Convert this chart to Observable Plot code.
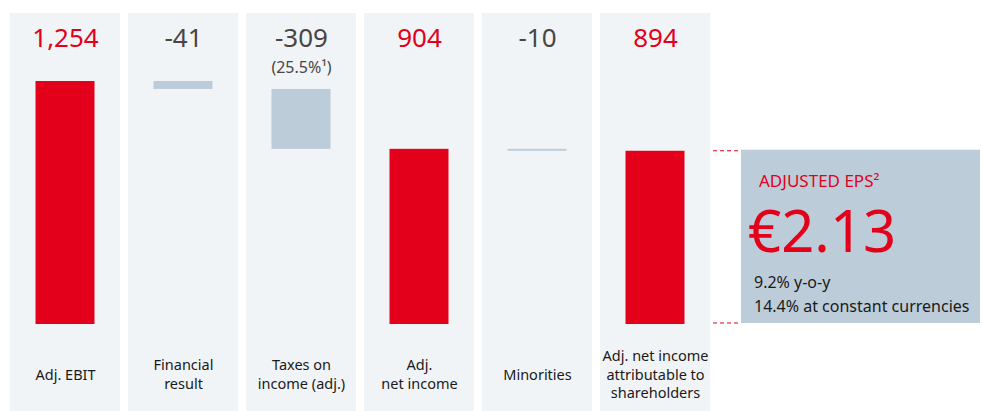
<!DOCTYPE html>
<html>
<head>
<meta charset="utf-8">
<script src="https://cdn.jsdelivr.net/npm/d3@7"></script>
<script src="https://cdn.jsdelivr.net/npm/@observablehq/plot@0.6"></script>
<style>
  html, body { margin: 0; padding: 0; background: #fff; }
  svg { font-family: "Noto Sans", "Open Sans", sans-serif; }
</style>
</head>
<body>
<div id="chart"></div>
<script>
const categories = ["Adj. EBIT", "Financial result", "Taxes on income (adj.)", "Adj. net income", "Minorities", "Adj. net income attributable to shareholders"];
const catLabels = ["Adj. EBIT", "Financial\nresult", "Taxes on\nincome (adj.)", "Adj.\nnet income", "Minorities", "Adj. net income\nattributable to\nshareholders"];
const values = [1254, -41, -309, 904, -10, 894];
const kinds = ["total", "delta", "delta", "total", "delta", "total"];
const valueLabels = ["1,254", "-41", "-309", "904", "-10", "894"];
const notes = ["", "", "(25.5%\u00B9)", "", "", ""];
const epsTitle = "ADJUSTED EPS\u00B2";
const epsValue = "\u20AC2.13";
const epsLines = ["9.2% y-o-y", "14.4% at constant currencies"];

const RED = "#e2001a", GREY = "#bdccd9", PANEL = "#f0f4f7", DARK = "#4a4444";

let running = 0;
const rows = categories.map((c, i) => {
  let start, end;
  if (kinds[i] === "total") { start = 0; end = values[i]; running = values[i]; }
  else { start = running; end = running + values[i]; running = end; }
  return {cat: c, label: catLabels[i], value: values[i], kind: kinds[i], vlabel: valueLabels[i], note: notes[i], start, end};
});

const yMin = -449, yMax = 1605;

const epsBox = (index, scales, vals, dims) => {
  const g = d3.create("svg:g").attr("text-anchor", "start");
  const last = rows[rows.length - 1];
  const xRight = scales.x(last.cat) + scales.x.bandwidth();
  const yTop = scales.y(last.end), yBot = scales.y(0);
  const bx = xRight + 31, bw = dims.width - 2 - bx;
  g.append("rect").attr("x", bx).attr("y", yTop - 1).attr("width", bw).attr("height", yBot - yTop)
    .attr("fill", GREY);
  for (const yy of [yTop, yBot - 1]) {
    g.append("line").attr("x1", xRight + 3).attr("x2", bx).attr("y1", yy).attr("y2", yy)
      .attr("stroke", RED).attr("stroke-width", 1.2).attr("stroke-dasharray", "4,3");
  }
  g.append("text").attr("x", bx + 18).attr("y", yTop + 36).attr("fill", RED)
    .attr("font-size", 17).text(epsTitle);
  g.append("text").attr("x", bx + 7).attr("y", yTop + 101).attr("fill", RED)
    .attr("font-size", 58).text(epsValue);
  epsLines.forEach((t, i) => {
    g.append("text").attr("x", bx + 13).attr("y", yTop + 137 + i * 24).attr("fill", "#1a1a1a")
      .attr("font-size", 16).text(t);
  });
  return g.node();
};

const chart = Plot.plot({
  width: 982,
  height: 411,
  marginTop: 13,
  marginBottom: 0,
  marginLeft: 8,
  marginRight: 270,
  x: {type: "band", domain: categories, paddingInner: 0.07, paddingOuter: 0, axis: null},
  y: {domain: [yMin, yMax], axis: null},
  color: {domain: ["total", "delta"], range: [RED, GREY]},
  marks: [
    Plot.barY(rows, {x: "cat", y1: yMin, y2: yMax, fill: PANEL}),
    Plot.barY(rows, {x: "cat", y1: "start", y2: "end", fill: "kind", insetLeft: 25.5, insetRight: 25.5}),
    Plot.text(rows.filter(d => d.kind === "total"), {x: "cat", text: "vlabel", frameAnchor: "top", lineAnchor: "middle", dy: 25, fontSize: 26, fill: RED}),
    Plot.text(rows.filter(d => d.kind === "delta"), {x: "cat", text: "vlabel", frameAnchor: "top", lineAnchor: "middle", dy: 25, fontSize: 26, fill: DARK}),
    Plot.text(rows.filter(d => d.note), {x: "cat", text: "note", frameAnchor: "top", lineAnchor: "middle", dy: 54, fontSize: 16, fill: DARK}),
    Plot.text(rows, {x: "cat", text: "label", frameAnchor: "bottom", lineAnchor: "middle", dy: -38, fontSize: 14.5, lineHeight: 1.3, fill: "#1a1a1a"}),
    epsBox
  ]
});

document.getElementById("chart").appendChild(chart);
</script>
</body>
</html>
